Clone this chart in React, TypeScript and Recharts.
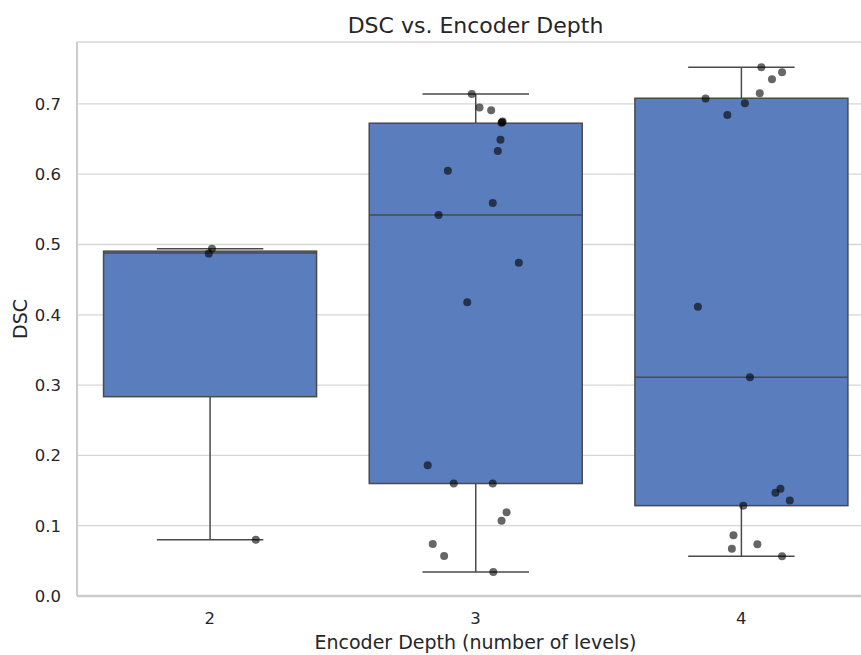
import React from 'react'
import { ComposedChart, Bar, Scatter, XAxis, YAxis, CartesianGrid } from 'recharts'

// box statistics per encoder depth
const depths = ['2', '3', '4']
const whiskerLow = [0.08, 0.034, 0.0565]
const q1 = [0.2835, 0.16, 0.1285]
const median = [0.488, 0.542, 0.311]
const q3 = [0.4905, 0.6725, 0.708]
const whiskerHigh = [0.494, 0.714, 0.752]

// individual DSC values with their horizontal jitter (category units)
const dsc2 = [0.494, 0.487, 0.08]
const jit2 = [0.008, -0.004, 0.173]
const dsc3 = [
  0.714, 0.695, 0.691, 0.674, 0.675, 0.673, 0.649, 0.633, 0.605, 0.559, 0.542, 0.474, 0.418,
  0.186, 0.16, 0.16, 0.119, 0.107, 0.074, 0.057, 0.034,
]
const jit3 = [
  -0.014, 0.015, 0.059, 0.1, 0.102, 0.098, 0.094, 0.084, -0.104, 0.065, -0.139, 0.163, -0.031,
  -0.18, -0.082, 0.065, 0.117, 0.098, -0.161, -0.118, 0.067,
]
const dsc4 = [
  0.752, 0.745, 0.735, 0.715, 0.7075, 0.701, 0.684, 0.4116, 0.311, 0.1527, 0.147, 0.136,
  0.1285, 0.0864, 0.0736, 0.0673, 0.0565,
]
const jit4 = [
  0.076, 0.154, 0.116, 0.07, -0.134, 0.014, -0.052, -0.163, 0.033, 0.148, 0.129, 0.183, 0.008,
  -0.029, 0.061, -0.035, 0.154,
]
const yTicks = [0, 0.1, 0.2, 0.3, 0.4, 0.5, 0.6, 0.7]

const boxRows = depths.map((d, i) => ({
  depth: d,
  range: [q1[i], q3[i]],
  lo: whiskerLow[i],
  q1: q1[i],
  med: median[i],
  q3: q3[i],
  hi: whiskerHigh[i],
}))

const points = [
  ...dsc2.map((v, i) => ({ x: 2 + jit2[i], y: v })),
  ...dsc3.map((v, i) => ({ x: 3 + jit3[i], y: v })),
  ...dsc4.map((v, i) => ({ x: 4 + jit4[i], y: v })),
]

const FONT = '"DejaVu Sans", sans-serif'
const TEXT = '#262626'
const EDGE = '#4a4a4a'

const BoxShape = (props: any) => {
  const { x, y, width, height, payload } = props
  const ppu = height / (payload.q3 - payload.q1)
  const toY = (v: number) => y + (payload.q3 - v) * ppu
  const cx = x + width / 2
  const cap = width / 4
  return (
    <g>
      <line x1={cx} x2={cx} y1={toY(payload.hi)} y2={y} stroke={EDGE} strokeWidth={1.5} />
      <line x1={cx} x2={cx} y1={y + height} y2={toY(payload.lo)} stroke={EDGE} strokeWidth={1.5} />
      <line x1={cx - cap} x2={cx + cap} y1={toY(payload.hi)} y2={toY(payload.hi)} stroke={EDGE} strokeWidth={1.5} />
      <line x1={cx - cap} x2={cx + cap} y1={toY(payload.lo)} y2={toY(payload.lo)} stroke={EDGE} strokeWidth={1.5} />
      <rect x={x} y={y} width={width} height={height} fill="#5a7dbe" stroke={EDGE} strokeWidth={1.5} />
      <line x1={x} x2={x + width} y1={toY(payload.med)} y2={toY(payload.med)} stroke={EDGE} strokeWidth={1.5} />
    </g>
  )
}

const Dot = (props: any) => <circle cx={props.cx} cy={props.cy} r={4} fill="#000" fillOpacity={0.6} />

export default function App() {
  return (
    <div style={{ position: 'absolute', left: 0, top: 0, width: 861, height: 655, overflow: 'hidden', background: '#fff', fontFamily: FONT }}>
      <div style={{ position: 'absolute', left: 77, width: 797, top: 13, textAlign: 'center', fontSize: 22, color: TEXT }}>
        DSC vs. Encoder Depth
      </div>
      <ComposedChart
        width={880}
        height={655}
        data={boxRows}
        margin={{ top: 42, right: 6, bottom: 0, left: 17 }}
        barCategoryGap="10%"
      >
        <CartesianGrid vertical={false} stroke="#d6d6d6" strokeWidth={1.3} />
        <XAxis
          dataKey="depth"
          height={59}
          tickSize={0}
          tickMargin={16}
          tickLine={false}
          axisLine={{ stroke: '#cccccc', strokeWidth: 2.5 }}
          tick={{ fontSize: 16.5, fill: TEXT, fontFamily: FONT }}
          label={{ value: 'Encoder Depth (number of levels)', position: 'insideBottom', offset: 6, fontSize: 19, fill: TEXT, fontFamily: FONT }}
        />
        <XAxis
          xAxisId="num"
          dataKey="x"
          type="number"
          orientation="top"
          domain={[1.5, 4.5]}
          allowDataOverflow
          height={0}
          tick={false}
          tickLine={false}
          axisLine={{ stroke: '#cccccc', strokeWidth: 2 }}
        />
        <YAxis
          type="number"
          domain={[0, 0.788]}
          ticks={yTicks}
          allowDataOverflow
          width={60}
          tickSize={0}
          tickMargin={16}
          tickLine={false}
          axisLine={{ stroke: '#cccccc', strokeWidth: 2 }}
          tickFormatter={(v: number) => v.toFixed(1)}
          tick={{ fontSize: 16.5, fill: TEXT, fontFamily: FONT }}
          label={{ value: 'DSC', angle: -90, position: 'insideLeft', offset: 3, style: { textAnchor: 'middle' }, fontSize: 19, fill: TEXT, fontFamily: FONT }}
        />
        <Bar dataKey="range" shape={BoxShape} isAnimationActive={false} />
        <Scatter xAxisId="num" data={points} dataKey="y" shape={Dot} isAnimationActive={false} />
      </ComposedChart>
    </div>
  )
}
